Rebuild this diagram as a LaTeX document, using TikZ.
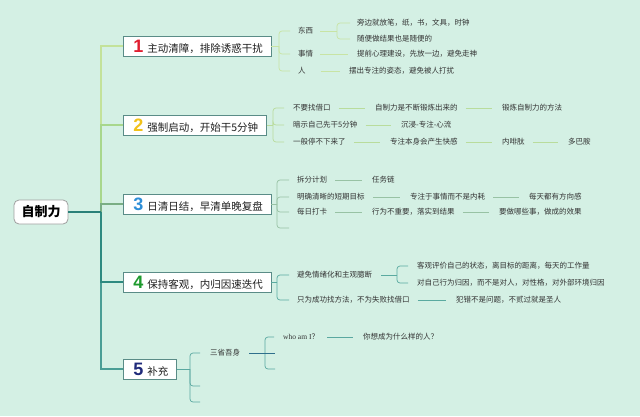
\documentclass[tikz,border=0pt]{standalone}
\usepackage{fontspec}
\newfontfamily\cjk{Noto Sans CJK SC}
\newfontfamily\numf{Liberation Sans}
\newfontfamily\serf{Liberation Serif}
\usetikzlibrary{calc}
\definecolor{bg}{HTML}{D4F0E4}
\definecolor{txt}{HTML}{333333}
\definecolor{boxedge}{HTML}{5A8C87}
\definecolor{cA}{HTML}{C3E29A}
\definecolor{cB}{HTML}{A8D78C}
\definecolor{cC}{HTML}{7AAE84}
\definecolor{cD}{HTML}{2E8A80}
\definecolor{cE}{HTML}{4A9E95}
\definecolor{cR}{HTML}{2A8078}
\definecolor{sA}{HTML}{C8E4A4}
\definecolor{sB}{HTML}{B9DC9C}
\definecolor{sC}{HTML}{98C2A4}
\definecolor{sD}{HTML}{5AAAA0}
\definecolor{sE}{HTML}{5AA8A0}
\definecolor{sF}{HTML}{2F6F8C}
\definecolor{nA}{HTML}{E01E30}
\definecolor{nB}{HTML}{F2C21A}
\definecolor{nC}{HTML}{2E8FD8}
\definecolor{nD}{HTML}{1E9A2E}
\definecolor{nE}{HTML}{1F2A7A}
\newcommand{\bnum}[2]{\makebox[12pt][r]{\numf\bfseries\fontsize{18}{18}\selectfont\color{#1}#2}\hspace{4pt}}
\tikzset{
  sub/.style={anchor=west, inner sep=1pt, font=\cjk\fontsize{7.5}{9}\selectfont, text=txt, text height=6.5pt, text depth=1.5pt},
  topbox/.style={draw=boxedge, fill=white, line width=0.8pt, anchor=west, inner xsep=8pt, inner ysep=0pt, minimum height=20pt, text height=16pt, text depth=3pt, font=\cjk\fontsize{10.5}{12}\selectfont, text=black!88},
  rootbox/.style={draw=gray!75, fill=white, rounded corners=5pt, line width=0.8pt, font=\cjk\bfseries\fontsize{13}{15}\selectfont, minimum width=54pt, minimum height=24pt, inner sep=0pt},
  chain/.style={shorten <=7pt, shorten >=9pt},
  brk/.style={rounded corners=3pt},
  thinline/.style={line width=0.7pt}
}
\begin{document}
\begin{tikzpicture}[x=1pt,y=-1pt]
\fill[bg] (0,0) rectangle (640,416);
\useasboundingbox (0,0) rectangle (640,416);

% root and main branches
\node[rootbox] (root) at (41,212) {自制力};
\coordinate (t) at (101,212);
\node[topbox] (b1) at (123,46) {\bnum{nA}{1}主动清障，排除诱惑干扰};
\node[topbox] (b2) at (123,125) {\bnum{nB}{2}强制启动，开始干5分钟};
\node[topbox] (b3) at (123,204) {\bnum{nC}{3}日清日结，早清单晚复盘};
\node[topbox] (b4) at (123,282) {\bnum{nD}{4}保持客观，内归因速迭代};
\node[topbox] (b5) at (123,369) {\bnum{nE}{5}补充};

\draw[cA, line width=1.5pt] (t) |- (b1.west);
\draw[cB, line width=1.5pt] (t) |- (b2.west);
\draw[cC, line width=2.2pt] (t) |- (b3.west);
\draw[cE, line width=1.2pt] (t) |- (b5.west);
\draw[cD, line width=2.2pt] (t) |- (b4.west);
\draw[cR, line width=2.2pt] (root.east) -- (t);

% branch 1
\coordinate (k1) at (279,46);
\node[sub] (s11) at (297,31) {东西};
\node[sub] (s12) at (297,54) {事情};
\node[sub] (s13) at (297,71) {人};
\draw[sA, thinline] (b1.east) -- (k1);
\foreach \n in {s11,s12,s13}{\draw[sA, thinline, brk] (k1) |- ([xshift=-7pt]\n.west);}
\coordinate (k11) at (337,31);
\node[sub] (s111) at (356,23) {旁边就放笔，纸，书，文具，时钟};
\node[sub] (s112) at (356,39) {随便做结果也是随便的};
\draw[sA, thinline] ([xshift=6pt]s11.east) -- (k11);
\foreach \n in {s111,s112}{\draw[sA, thinline, brk] (k11) |- ([xshift=-6pt]\n.west);}
\node[sub] (s121) at (356,54) {提前心理建设，先放一边，避免走神};
\draw[sA, thinline] ([xshift=6pt]s12.east) -- ([xshift=-8pt]s121.west);
\node[sub] (s131) at (348,71) {摆出专注的姿态，避免被人打扰};
\draw[sA, thinline] ([xshift=14pt]s13.east) -- ([xshift=-8pt]s131.west);

% branch 2
\coordinate (k2) at (273,125);
\node[sub] (s21) at (292,108) {不要找借口};
\node[sub] (s22) at (292,125) {暗示自己先干5分钟};
\node[sub] (s23) at (292,142) {一般停不下来了};
\draw[sB, thinline] (b2.east) -- (k2);
\foreach \n in {s21,s22,s23}{\draw[sB, thinline, brk] (k2) |- ([xshift=-8pt]\n.west);}
\node[sub] (s211) at (374,108) {自制力是不断锻炼出来的};
\node[sub] (s212) at (501,108) {锻炼自制力的方法};
\node[sub] (s221) at (400,125) {沉浸-专注-心流};
\node[sub] (s231) at (389,142) {专注本身会产生快感};
\node[sub] (s232) at (501,142) {内啡肽};
\node[sub] (s233) at (567,142) {多巴胺};
\draw[sB, thinline, chain] (s21) -- (s211);
\draw[sB, thinline, chain] (s211) -- (s212);
\draw[sB, thinline, chain] (s22) -- (s221);
\draw[sB, thinline, chain] (s23) -- (s231);
\draw[sB, thinline, chain] (s231) -- (s232);
\draw[sB, thinline, chain] (s232) -- (s233);

% branch 3
\coordinate (k3) at (277,204);
\node[sub] (s31) at (296,180) {拆分计划};
\node[sub] (s32) at (296,197) {明确清晰的短期目标};
\node[sub] (s33) at (296,212) {每日打卡};
\coordinate (e3) at (289,228);
\draw[sC, thinline] (b3.east) -- (k3);
\foreach \n in {s31,s32,s33}{\draw[sC, thinline, brk] (k3) |- ([xshift=-7pt]\n.west);}
\draw[sC, thinline, brk] (k3) |- (e3);
\node[sub] (s311) at (371,180) {任务链};
\node[sub] (s321) at (409,197) {专注于事情而不是内耗};
\node[sub] (s322) at (528,197) {每天都有方向感};
\node[sub] (s331) at (371,212) {行为不重要，落实到结果};
\node[sub] (s332) at (498,212) {要做哪些事，做成的效果};
\draw[sC, thinline, chain] (s31) -- (s311);
\draw[sC, thinline, chain] (s32) -- (s321);
\draw[sC, thinline, chain] (s321) -- (s322);
\draw[sC, thinline, chain] (s33) -- (s331);
\draw[sC, thinline, chain] (s331) -- (s332);

% branch 4
\coordinate (k4) at (277,282);
\node[sub] (s41) at (296,275) {避免情绪化和主观臆断};
\node[sub] (s42) at (296,300) {只为成功找方法，不为失败找借口};
\draw[sD, thinline] (b4.east) -- (k4);
\foreach \n in {s41,s42}{\draw[sD, thinline, brk] (k4) |- ([xshift=-7pt]\n.west);}
\coordinate (k41) at (397,275);
\node[sub] (s411) at (416,266) {客观评价自己的状态，离目标的距离，每天的工作量};
\node[sub] (s412) at (416,283) {对自己行为归因，而不是对人，对性格，对外部环境归因};
\draw[sD, thinline] ([xshift=8pt]s41.east) -- (k41);
\foreach \n in {s411,s412}{\draw[sD, thinline, brk] (k41) |- ([xshift=-8pt]\n.west);}
\node[sub] (s421) at (455,300) {犯错不是问题，不贰过就是圣人};
\draw[sD, thinline, chain] (s42) -- (s421);

% branch 5
\coordinate (k5) at (190,369);
\node[sub] (s51) at (209,353) {三省吾身};
\coordinate (e51) at (200,386);
\coordinate (e52) at (200,402);
\draw[sE, thinline] (b5.east) -- (k5);
\draw[sE, thinline, brk] (k5) |- ([xshift=-9pt]s51.west);
\draw[sE, thinline, brk] (k5) |- (e51);
\draw[sE, thinline, brk] (k5) |- (e52);
\coordinate (k51) at (265,353);
\node[sub] (s511) at (282,337) {{\serf who am I}？};
\coordinate (e511) at (275,353);
\coordinate (e512) at (275,369);
\draw[sE, thinline, brk] (k51) |- ([xshift=-8pt]s511.west);
\draw[sE, thinline, brk] (k51) |- (e512);
\draw[sF, thinline] ([xshift=8pt]s51.east) -- (e511);
\node[sub] (s5111) at (362,337) {你想成为什么样的人？};
\draw[sE, thinline, chain] (s511) -- (s5111);
\end{tikzpicture}
\end{document}
